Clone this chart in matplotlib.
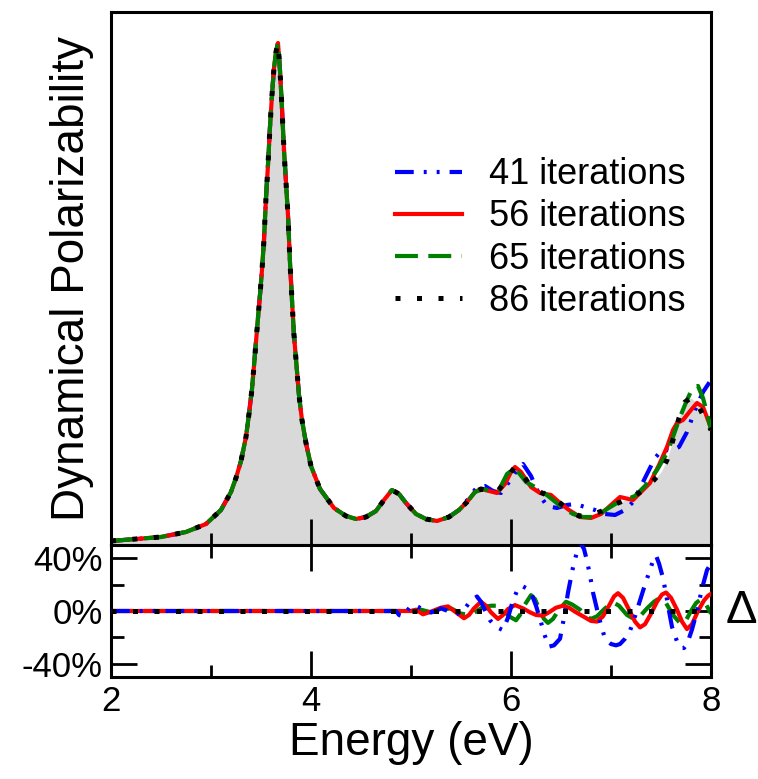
import numpy as np
import matplotlib
matplotlib.use("Agg")
import matplotlib.pyplot as plt
from matplotlib.ticker import MultipleLocator, FixedLocator

plt.rcParams["font.family"] = ["Liberation Sans", "DejaVu Sans"]

# ---- top panel: dynamical polarizability (arb. units) ----
# shared part, all iteration counts coincide below ~5.3 eV
E_low = [2.00, 2.25, 2.50, 2.75, 2.95, 3.10, 3.20, 3.25, 3.30, 3.35, 3.38, 3.41,
         3.43, 3.45, 3.47, 3.49, 3.51, 3.53, 3.55, 3.57, 3.59, 3.61, 3.63, 3.65,
         3.67, 3.69, 3.71, 3.73, 3.75, 3.77, 3.79, 3.81, 3.83, 3.86, 3.88, 3.91,
         3.95, 4.00, 4.09, 4.23, 4.35, 4.45, 4.55, 4.65, 4.73, 4.81, 4.88, 4.95,
         5.05, 5.15, 5.26]
pol_low = [0.8, 1.2, 1.6, 2.6, 4.2, 7.0, 10.6, 13.4, 16.8, 21.6, 26.2, 31.2,
           35.8, 40.6, 45.4, 50.0, 55.0, 61.0, 69.4, 76.0, 83.6, 90.0, 95.4, 98.6,
           100.4, 95.0, 87.4, 79.0, 72.6, 66.0, 56.6, 49.0, 42.0, 34.8, 30.0, 25.0,
           20.4, 15.8, 11.2, 7.4, 5.8, 5.2, 5.6, 6.8, 9.0, 11.0, 10.2, 8.4,
           6.2, 5.2, 4.8]

# high energy tails for each run
E_41 = [5.38, 5.48, 5.58, 5.66, 5.74, 5.82, 5.90, 5.98, 6.06, 6.12, 6.20, 6.28,
        6.36, 6.46, 6.56, 6.64, 6.74, 6.84, 6.94, 7.04, 7.14, 7.22, 7.30, 7.38,
        7.44, 7.52, 7.60, 7.68, 7.76, 7.84, 7.92, 8.00]
pol_41 = [5.6, 7.0, 9.4, 11.6, 11.8, 10.8, 10.4, 12.6, 15.0, 16.2, 13.8, 10.2,
          7.8, 7.4, 8.0, 8.2, 7.6, 7.0, 6.2, 6.0, 7.0, 8.6, 11.8, 15.0,
          17.4, 19.2, 18.8, 19.6, 22.6, 27.0, 30.6, 33.0]

E_56 = [5.38, 5.48, 5.56, 5.64, 5.70, 5.78, 5.86, 5.94, 6.00, 6.04, 6.10, 6.20,
        6.29, 6.40, 6.49, 6.58, 6.69, 6.80, 6.90, 7.00, 7.09, 7.22, 7.32, 7.39,
        7.48, 7.56, 7.62, 7.66, 7.72, 7.80, 7.86, 7.92, 8.00]
pol_56 = [5.6, 7.0, 8.6, 10.6, 11.2, 10.8, 10.4, 12.2, 14.6, 15.6, 14.6, 11.6,
          10.4, 10.0, 8.4, 7.0, 5.6, 5.4, 6.2, 8.0, 9.6, 9.0, 11.0, 12.4,
          16.0, 19.6, 23.0, 24.4, 25.0, 27.0, 28.4, 27.6, 23.4]

E_65 = [5.38, 5.48, 5.56, 5.64, 5.72, 5.80, 5.88, 5.96, 6.04, 6.15, 6.24, 6.32,
        6.42, 6.52, 6.62, 6.72, 6.84, 6.96, 7.06, 7.14, 7.24, 7.34, 7.46, 7.56,
        7.62, 7.69, 7.76, 7.82, 7.87, 7.92, 7.96, 8.00]
pol_65 = [5.6, 7.0, 8.6, 10.6, 11.2, 10.8, 11.0, 14.2, 15.4, 12.6, 11.6, 10.6,
          9.0, 7.4, 6.2, 5.6, 5.6, 7.2, 8.4, 9.0, 9.8, 11.8, 15.0, 18.4,
          21.6, 25.6, 29.0, 31.6, 31.8, 29.4, 26.4, 23.0]

E_86 = [5.38, 5.48, 5.56, 5.64, 5.70, 5.78, 5.86, 5.94, 6.00, 6.04, 6.10, 6.18,
        6.29, 6.40, 6.49, 6.58, 6.68, 6.80, 6.91, 7.02, 7.12, 7.22, 7.34, 7.43,
        7.50, 7.56, 7.62, 7.68, 7.74, 7.80, 7.86, 7.92, 8.00]
pol_86 = [5.6, 7.0, 8.6, 10.6, 11.2, 10.8, 10.6, 12.6, 14.6, 15.6, 14.6, 12.2,
          10.6, 9.6, 8.4, 7.0, 5.8, 6.0, 6.8, 8.0, 8.8, 9.6, 11.2, 13.0,
          14.6, 17.0, 21.0, 25.4, 28.6, 29.4, 28.4, 26.0, 23.0]

# ---- bottom panel: relative deviation (%) ----
dE_41 = [2.00, 4.85, 4.88, 4.92, 4.96, 5.00, 5.05, 5.10, 5.15, 5.20, 5.25, 5.30,
         5.37, 5.45, 5.50, 5.55, 5.60, 5.66, 5.70, 5.75, 5.79, 5.85, 5.92, 5.97,
         6.02, 6.07, 6.11, 6.16, 6.20, 6.25, 6.29, 6.34, 6.38, 6.43, 6.49, 6.53,
         6.57, 6.62, 6.66, 6.69, 6.73, 6.76, 6.79, 6.82, 6.88, 6.94, 7.00, 7.05,
         7.09, 7.14, 7.19, 7.24, 7.29, 7.34, 7.38, 7.42, 7.45, 7.48, 7.52, 7.55,
         7.58, 7.61, 7.66, 7.70, 7.73, 7.76, 7.81, 7.86, 7.91, 7.96, 8.00]
d_41 = [0, 0, -3, -4, 0, 4, 4, 2, 0, -1, 0, 2,
        0, -2.5, -1, 3, 8, 11, 7, -1, -7, -12, -14.5, -5,
        8, 17, 19, 17, 14, 4, -6, -19, -27, -26, -21, -5,
        14, 33, 45, 52, 47, 38, 27, 14, -5, -21, -25, -26,
        -25, -21, -15, -4, 8, 20, 29, 38, 42, 36, 25, 13,
        0, -12, -23, -28, -28, -25, -14, 0, 17, 31, 36]

dE_56 = [2.00, 5.00, 5.05, 5.12, 5.20, 5.30, 5.37, 5.45, 5.53, 5.58, 5.63, 5.70,
         5.75, 5.80, 5.87, 5.92, 5.97, 6.04, 6.12, 6.19, 6.25, 6.32, 6.38, 6.45,
         6.52, 6.58, 6.64, 6.72, 6.80, 6.86, 6.92, 6.98, 7.03, 7.07, 7.12, 7.18,
         7.24, 7.29, 7.34, 7.40, 7.46, 7.51, 7.55, 7.60, 7.66, 7.71, 7.76, 7.81,
         7.87, 7.93, 7.97, 8.00]
d_56 = [0, 0, 1, -2.5, -0.5, 2.5, 3.5, -1, -5.5, -3, 2, 7,
        4, -1, -6, -3, 1.5, 4.5, 2, -1, -3, -3.5, -1, 2.5,
        4, 2.5, -0.5, -4, -7.5, -8, -4, 4, 11, 13.5, 10, 1,
        -8, -12.4, -10, -2, 7, 12.5, 14, 10, 1, -8, -13.7, -10,
        0, 8, 11.5, 13]

dE_65 = [2.00, 5.00, 5.10, 5.20, 5.30, 5.40, 5.50, 5.60, 5.66, 5.72, 5.80, 5.86,
         5.92, 5.98, 6.05, 6.09, 6.14, 6.20, 6.24, 6.29, 6.33, 6.37, 6.42, 6.48,
         6.55, 6.61, 6.69, 6.75, 6.80, 6.86, 6.94, 7.02, 7.08, 7.16, 7.23, 7.29,
         7.36, 7.43, 7.49, 7.55, 7.62, 7.70, 7.75, 7.80, 7.85, 7.90, 7.95, 8.00]
d_65 = [0, 0, 1, -1, 1, 2, -2, -3, 0, 3, 4, 4,
        1, -4, -7, -3, 5, 12, 9, 0, -6, -9, -6, 1,
        7, 5, 1, -4, -6, -4, 2, 6.6, 4, -3, -6, -4,
        2, 7, 10, 6, -3, -10, -7, 0, 6, 9, 5, -2]

dE_86 = [2.0, 8.0]
d_86 = [0, 0]

labels = ["41 iterations", "56 iterations", "65 iterations", "86 iterations"]

# line styles (dash patterns in units of linewidth)
st41 = dict(color="#0000ff", lw=3.0, linestyle=(0, (4.5, 2.4, 0.7, 2.4, 0.7, 2.4)))
st56 = dict(color="#ff0000", lw=3.0, linestyle="-")
st65 = dict(color="#008000", lw=3.0, linestyle=(0, (5.5, 2.5)))
st86 = dict(color="black", lw=3.6, linestyle=(0, (1, 3.3)))

fig = plt.figure(figsize=(7.58, 7.79), dpi=100)
ax = fig.add_axes([0.1464, 0.3004, 0.7916, 0.6842])
axd = fig.add_axes([0.1464, 0.1309, 0.7916, 0.1695])

E86 = E_low + E_86
P86 = pol_low + pol_86
ax.fill_between(E86, 0, P86, color="#d9d9d9", lw=0, zorder=1)
ax.plot(E_low + E_41, pol_low + pol_41, label=labels[0], zorder=2, **st41)
ax.plot(E_low + E_56, pol_low + pol_56, label=labels[1], zorder=3, **st56)
ax.plot(E_low + E_65, pol_low + pol_65, label=labels[2], zorder=4, **st65)
ax.plot(E86, P86, label=labels[3], zorder=5, dash_capstyle="butt", **st86)

ax.set_xlim(2, 8)
ax.set_ylim(0, 106.6)
ax.set_yticks([])
ax.xaxis.set_major_locator(MultipleLocator(2))
ax.xaxis.set_minor_locator(MultipleLocator(1))
ax.tick_params(axis="x", which="both", direction="in", labelbottom=False, width=2)
ax.tick_params(axis="x", which="major", length=19)
ax.tick_params(axis="x", which="minor", length=9)
ax.set_ylabel("Dynamical Polarizability", fontsize=33, labelpad=12)

leg = ax.legend(loc="upper right", bbox_to_anchor=(1.0, 0.775), frameon=False,
                fontsize=26, handlelength=1.85, handletextpad=0.75,
                labelspacing=0.2, borderaxespad=0.3)

axd.plot(dE_65, d_65, zorder=2, **st65)
axd.plot(dE_56, d_56, zorder=3, **st56)
axd.plot(dE_41, d_41, zorder=4, **st41)
axd.plot(dE_86, d_86, zorder=5, dash_capstyle="butt", **st86)
axd.set_xlim(2, 8)
axd.set_ylim(-50, 50)
axd.xaxis.set_major_locator(MultipleLocator(2))
axd.xaxis.set_minor_locator(MultipleLocator(1))
axd.yaxis.set_major_locator(FixedLocator([-40, 0, 40]))
axd.yaxis.set_minor_locator(FixedLocator([-20, 20]))
axd.set_yticklabels(["-40%", "0%", "40%"])
axd.tick_params(which="both", direction="in", top=True, right=True, width=2,
                labelsize=25, pad=6)
axd.tick_params(which="major", length=19)
axd.tick_params(which="minor", length=9)
axd.set_xlabel("Energy (eV)", fontsize=33, labelpad=2)
axd.text(1.025, 0.5, "Δ", transform=axd.transAxes, fontsize=34,
         ha="left", va="center")

for a in (ax, axd):
    for s in a.spines.values():
        s.set_linewidth(2.2)

fig.savefig("out.png", dpi=100)
